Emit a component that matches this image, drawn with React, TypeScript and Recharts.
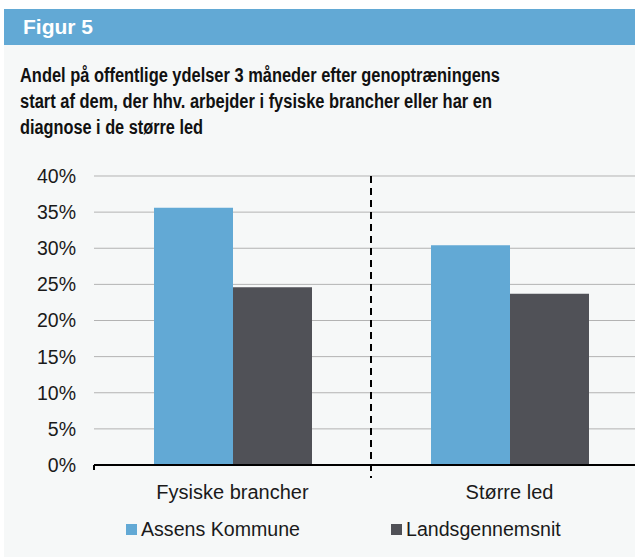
import React from "react";
import { BarChart, Bar, XAxis, YAxis, CartesianGrid, ReferenceLine } from "recharts";

const categories = ["Fysiske brancher", "Større led"];
const assensValues = [35.6, 30.4];
const landsValues = [24.6, 23.7];
const seriesNames = ["Assens Kommune", "Landsgennemsnit"];
const seriesColors = ["#62a9d5", "#505157"];
const yTicks = [0, 5, 10, 15, 20, 25, 30, 35, 40];
const titleLines = [
  "Andel på offentlige ydelser 3 måneder efter genoptræningens",
  "start af dem, der hhv. arbejder i fysiske brancher eller har en",
  "diagnose i de større led",
];
const figureLabel = "Figur 5";

const data = categories.map((c, i) => ({
  name: c,
  assens: assensValues[i],
  lands: landsValues[i],
}));

const FONT = "'Liberation Sans', Arial, Helvetica, sans-serif";
const titleWidths = [480, 472, 183];

export default function App() {
  return (
    <div
      style={{
        position: "absolute",
        left: 0,
        top: 0,
        width: 635,
        height: 557,
        overflow: "hidden",
        background: "#ffffff",
        fontFamily: FONT,
      }}
    >
      <div style={{ position: "absolute", left: 4, top: 9, width: 631, height: 36, background: "#62a9d5" }} />
      <div style={{ position: "absolute", left: 4, top: 45, width: 631, height: 512, background: "#f6f8f8" }} />
      <svg style={{ position: "absolute", left: 0, top: 0 }} width={635} height={150}>
        <text x={23} y={34} fontFamily={FONT} fontWeight="bold" fontSize={21} fill="#ffffff">
          {figureLabel}
        </text>
        {titleLines.map((t, i) => (
          <text
            key={i}
            x={20}
            y={82 + i * 26}
            fontFamily={FONT}
            fontWeight="bold"
            fontSize={20}
            fill="#111111"
            textLength={titleWidths[i]}
            lengthAdjust="spacingAndGlyphs"
          >
            {t}
          </text>
        ))}
      </svg>
      <div style={{ position: "absolute", left: 0, top: 150 }}>
        <BarChart
          width={660}
          height={407}
          data={data}
          margin={{ top: 26, right: 12, left: 0, bottom: 62 }}
          barGap={0}
        >
          <CartesianGrid vertical={false} stroke="#b3b3b3" strokeWidth={1} />
          <XAxis
            dataKey="name"
            axisLine={{ stroke: "#000000", strokeWidth: 2 }}
            tickLine={false}
            tickMargin={14}
            height={30}
            tick={{ fill: "#1a1a1a", fontSize: 20, fontFamily: FONT }}
          />
          <YAxis
            width={94}
            domain={[0, 40]}
            ticks={yTicks}
            axisLine={false}
            tickLine={false}
            tickMargin={12}
            tickFormatter={(v) => `${v}%`}
            tick={{ fill: "#1a1a1a", fontSize: 19.5, fontFamily: FONT }}
          />
          <Bar dataKey="assens" name={seriesNames[0]} fill={seriesColors[0]} barSize={79} isAnimationActive={false} />
          <Bar dataKey="lands" name={seriesNames[1]} fill={seriesColors[1]} barSize={79} isAnimationActive={false} />
          <ReferenceLine
            segment={[
              { x: categories[1], y: 40 },
              { x: categories[1], y: -1.8 },
            ]}
            position="start"
            ifOverflow="visible"
            stroke="#000000"
            strokeWidth={2}
            strokeDasharray="7 5"
          />
          <ReferenceLine
            segment={[
              { x: categories[0], y: 0 },
              { x: categories[0], y: -0.7 },
            ]}
            position="start"
            ifOverflow="visible"
            stroke="#000000"
            strokeWidth={2}
          />
        </BarChart>
      </div>
      {seriesNames.map((n, i) => (
        <div
          key={n}
          style={{
            position: "absolute",
            left: i === 0 ? 126 : 391,
            top: 518,
            height: 22,
            display: "flex",
            alignItems: "center",
            fontSize: 19.6,
            color: "#1a1a1a",
            whiteSpace: "nowrap",
          }}
        >
          <span style={{ display: "inline-block", width: 11, height: 11, background: seriesColors[i], marginRight: 4 }} />
          <span>{n}</span>
        </div>
      ))}
    </div>
  );
}
